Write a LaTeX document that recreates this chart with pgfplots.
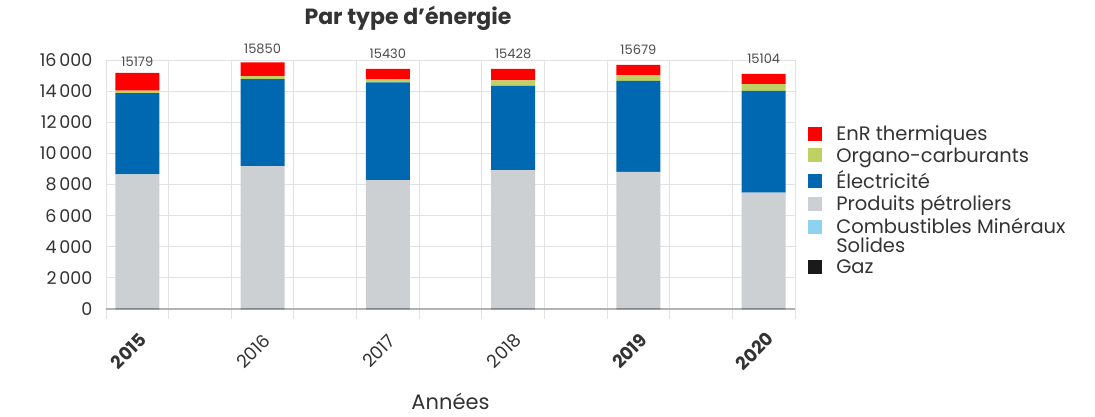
\documentclass[border=0pt]{standalone}
\usepackage{fontspec}
\setmainfont{Poppins}
\usepackage{pgfplots}
\pgfplotsset{compat=1.18}
\usepackage{pgfplotstable}
\definecolor{cenr}{HTML}{FF0000}
\definecolor{corg}{HTML}{BFD162}
\definecolor{celec}{HTML}{0068B0}
\definecolor{cprod}{HTML}{CDD0D3}
\definecolor{ccms}{HTML}{8DD3F0}
\definecolor{cgaz}{HTML}{1A1A1A}
\definecolor{cgrid}{HTML}{E2E2E2}
\definecolor{ctxt}{HTML}{333333}

\pgfplotstableread{
x tot gaz cms prod elec org enr
0 15179 30 0 8613 5225 172 1139
1 15850 30 0 9150 5590 194 886
2 15430 30 0 8248 6277 215 660
3 15428 30 0 8893 5417 345 743
4 15679 30 0 8785 5848 366 650
5 15104 30 0 7452 6536 430 656
}\data

\begin{document}
\begin{tikzpicture}
\path (0,0) rectangle (1095pt,416pt);
\node[font=\bfseries\fontsize{22}{26}\selectfont, text=ctxt] at (408pt,398pt) {Par type d'énergie};
\begin{axis}[
  at={(106pt,107pt)}, anchor=south west,
  scale only axis, width=689pt, height=249pt,
  ybar stacked, bar width=44pt,
  xmin=-0.25, xmax=5.25, ymin=0, ymax=16000,
  xtick={0,...,5},
  xticklabels={\textbf{2015},2016,2017,2018,\textbf{2019},\textbf{2020}},
  minor xtick={-0.25,0.25,...,5.3},
  ytick={0,2000,...,16000},
  scaled y ticks=false,
  xminorgrids, ymajorgrids,
  grid style={cgrid, line width=1pt},
  minor grid style={cgrid, line width=1pt},
  axis line style={draw=none},
  major tick length=0pt,
  minor tick length=10pt,
  tick align=outside,
  tick pos=left,
  minor tick style={cgrid, line width=1pt},
  extra y ticks={0}, extra y tick labels={},
  extra y tick style={grid style={black!30, line width=1.5pt}},
  /pgf/number format/assume math mode=true,
  /pgf/number format/1000 sep={\,},
  yticklabel style={font=\fontsize{17.5}{20}\selectfont, text=ctxt, xshift=-10pt},
  xticklabel style={font=\fontsize{18}{20}\selectfont, text=ctxt, xshift=-9pt, yshift=-42pt, rotate=45, anchor=center},
  xlabel={Années},
  xlabel style={font=\fontsize{21}{24}\selectfont, text=ctxt, at={(axis description cs:0.5,-0.372)}, anchor=center},
  legend style={at={(1.019,0.745)}, anchor=north west, draw=none, fill=none,
    font=\fontsize{19.5}{19}\selectfont, text=ctxt, inner sep=0pt,
    cells={anchor=base west, align=left}, row sep=2pt,
    /tikz/every odd column/.append style={column sep=12pt}},
  legend image code/.code={\fill[#1, draw=none] (0pt,0pt) rectangle (14pt,14pt);},
  reverse legend,
]
\addplot[fill=cgaz, draw=none] table[x=x, y=gaz] {\data};
\addlegendentry{Gaz}
\addplot[fill=ccms, draw=none, legend image code/.code={\fill[ccms] (0pt,19pt) rectangle (14pt,33pt);}] table[x=x, y=cms] {\data};
\addlegendentry{Combustibles Minéraux\\Solides}
\addplot[fill=cprod, draw=none] table[x=x, y=prod] {\data};
\addlegendentry{Produits pétroliers}
\addplot[fill=celec, draw=none] table[x=x, y=elec] {\data};
\addlegendentry{Électricité}
\addplot[fill=corg, draw=none] table[x=x, y=org] {\data};
\addlegendentry{Organo-carburants}
\addplot[fill=cenr, draw=none, point meta=explicit,
  nodes near coords={\pgfmathprintnumber[1000 sep={}]{\pgfplotspointmeta}},
  every node near coord/.append style={font=\fontsize{13}{15}\selectfont, text=black!70, anchor=south, yshift=12pt}]
  table[x=x, y=enr, meta=tot] {\data};
\addlegendentry{EnR thermiques}
\end{axis}
\end{tikzpicture}
\end{document}
